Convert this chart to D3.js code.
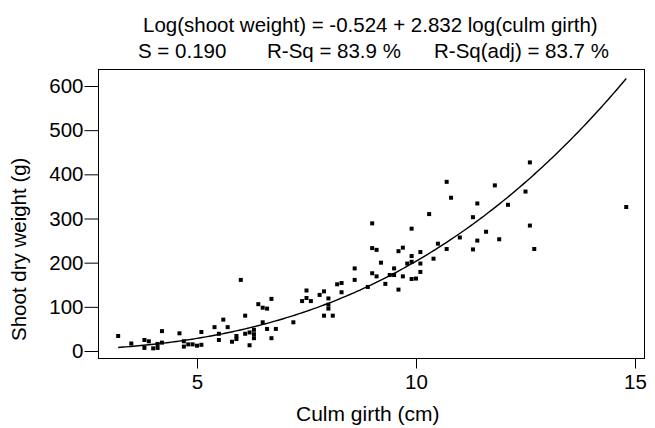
<!DOCTYPE html>
<html><head><meta charset="utf-8">
<script src="https://cdn.jsdelivr.net/npm/d3@7"></script>
<style>
html,body{margin:0;padding:0;background:#fff;}
text{font-family:"Liberation Sans",Arial,sans-serif;fill:#000;}
</style></head>
<body>
<svg id="chart" width="655" height="428"></svg>
<script>
const girth = [3.2,3.5,3.8,3.9,3.8,4.0,4.1,4.1,4.2,4.2,4.6,4.7,4.7,4.8,4.9,5.0,5.1,5.1,5.4,5.5,5.5,5.6,5.7,5.8,5.9,5.9,6.0,6.1,6.1,6.2,6.2,6.3,6.3,6.3,6.4,6.5,6.5,6.6,6.6,6.7,6.8,6.7,
7.2,7.4,7.5,7.5,7.6,7.8,7.9,7.9,8.0,8.0,8.0,8.1,8.2,8.3,8.3,8.6,8.6,8.9,9.0,9.0,9.1,9.0,9.1,9.2,9.3,9.4,9.5,9.5,9.6,9.7,9.6,9.7,9.8,9.9,9.9,9.9,9.9,10.0,10.1,10.1,10.1,10.3,10.4,10.5,10.7,10.8,10.7,11.0,11.3,11.3,11.4,11.4,11.8,11.6,11.9,12.1,12.5,12.6,12.6,12.7,14.8];
const weight = [34,17,25,22,7,6,7,16,19,45,40,22,10,15,15,12,14,43,54,39,25,71,54,21,34,27,161,80,39,42,13,48,38,29,106,98,65,96,50,118,50,29,
65,113,137,120,113,127,135,80,119,105,96,80,151,154,133,187,161,145,289,233,229,176,169,200,152,172,187,172,226,234,139,169,198,215,202,277,163,164,224,198,179,310,209,243,383,347,231,257,303,230,334,250,375,270,253,331,361,427,284,231,326];
const xTicks = [5,10,15];
const yTicks = [0,100,200,300,400,500,600];
const b0 = -0.524, b1 = 2.832;
const titleLine1 = "Log(shoot weight) = -0.524 + 2.832 log(culm girth)";
const statLabels = ["S = 0.190","R-Sq = 83.9 %","R-Sq(adj) = 83.7 %"];
const xTitle = "Culm girth (cm)";
const yTitle = "Shoot dry weight (g)";

const svg = d3.select("#chart");
const L = 98.5, R = 644.5, T = 69.5, B = 358.5;
const x = d3.scaleLinear().domain([5,15]).range([197,635]);
const y = d3.scaleLinear().domain([0,600]).range([351,86]);
const FS = 20.5;

svg.append("rect").attr("width",655).attr("height",428).attr("fill","#fff");

// frame
svg.append("rect").attr("x",L).attr("y",T).attr("width",R-L).attr("height",B-T)
  .attr("fill","none").attr("stroke","#000").attr("stroke-width",1);

// x axis
const xa = svg.append("g").attr("transform",`translate(0,${B})`)
  .call(d3.axisBottom(x).tickValues(xTicks).tickSize(10).tickPadding(6).tickFormat(d3.format("d")));
xa.select(".domain").remove();
xa.selectAll("text").attr("font-size",FS).attr("font-family","Liberation Sans, Arial").attr("fill","#000");

// y axis
const ya = svg.append("g").attr("transform",`translate(${L},0)`)
  .call(d3.axisLeft(y).tickValues(yTicks).tickSize(14).tickPadding(1).tickFormat(d3.format("d")));
ya.select(".domain").remove();
ya.selectAll("text").attr("font-size",FS).attr("font-family","Liberation Sans, Arial").attr("fill","#000");

// fitted curve
const xmin = d3.min(girth), xmax = d3.max(girth);
const curve = d3.range(0,201).map(i => {
  const g = xmin + (xmax-xmin)*i/200;
  return [g, Math.pow(10, b0 + b1*Math.log10(g))];
});
svg.append("path").datum(curve)
  .attr("d", d3.line().x(d=>x(d[0])).y(d=>y(d[1])))
  .attr("fill","none").attr("stroke","#000").attr("stroke-width",1.4);

// points
const pts = girth.map((g,i)=>({g, w: weight[i]}));
svg.append("g").selectAll("rect").data(pts).join("rect")
  .attr("x",d=>x(d.g)-2).attr("y",d=>y(d.w)-2).attr("width",4).attr("height",4).attr("fill","#000");

// titles
svg.append("text").attr("x",143).attr("y",31.5).attr("font-size",FS).text(titleLine1);
const statX = [138,267,434];
statLabels.forEach((s,i)=>{
  svg.append("text").attr("x",statX[i]).attr("y",58).attr("font-size",FS).text(s);
});
svg.append("text").attr("x",296).attr("y",421).attr("font-size",21).text(xTitle);
svg.append("text").attr("transform",`translate(26,341) rotate(-90)`).attr("font-size",FS).text(yTitle);
</script>
</body></html>
